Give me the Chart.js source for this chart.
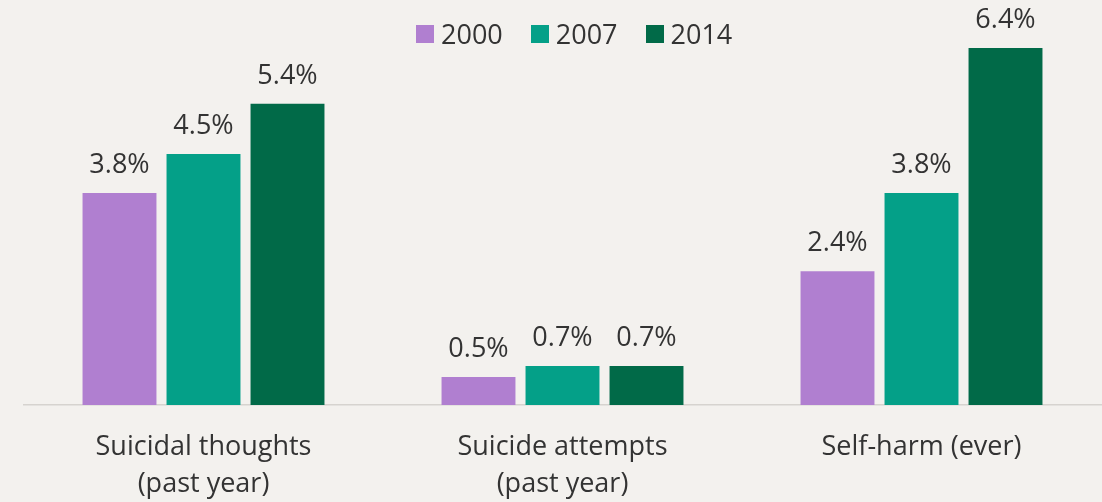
<!DOCTYPE html>
<html>
<head>
<meta charset="utf-8">
<script src="https://cdn.jsdelivr.net/npm/chart.js@4.4.1/dist/chart.umd.min.js"></script>
<style>
  html, body { margin: 0; padding: 0; background: #f3f1ee; }
  #wrap { position: relative; width: 1102px; height: 502px; }
  #legend { position: absolute; left: 416px; top: 15px; display: flex; align-items: center;
            font-family: "Open Sans", sans-serif; font-size: 27px; color: #333; }
  .item { display: flex; align-items: center; margin-right: 28px; }
  .sw { width: 18px; height: 18px; margin-right: 7px; }
</style>
</head>
<body>
<div id="wrap">
  <canvas id="c" width="1102" height="502"></canvas>
  <div id="legend"></div>
</div>
<script>
const categories = [["Suicidal thoughts", "(past year)"], ["Suicide attempts", "(past year)"], ["Self-harm (ever)"]];
const seriesNames = ["2000", "2007", "2014"];
const values2000 = [3.8, 0.5, 2.4];
const values2007 = [4.5, 0.7, 3.8];
const values2014 = [5.4, 0.7, 6.4];
const seriesColors = ["#b07fd0", "#04a088", "#016a48"];

const allValues = [values2000, values2007, values2014];

const legendEl = document.getElementById('legend');
seriesNames.forEach((n, i) => {
  const it = document.createElement('div'); it.className = 'item';
  const sw = document.createElement('div'); sw.className = 'sw'; sw.style.background = seriesColors[i];
  const tx = document.createElement('span'); tx.textContent = n;
  it.appendChild(sw); it.appendChild(tx); legendEl.appendChild(it);
});

const valueLabels = {
  id: 'valueLabels',
  afterDatasetsDraw(chart) {
    const ctx = chart.ctx;
    ctx.save();
    ctx.font = '27px "Open Sans", sans-serif';
    ctx.fillStyle = '#333';
    ctx.textAlign = 'center';
    ctx.textBaseline = 'alphabetic';
    chart.data.datasets.forEach((ds, di) => {
      chart.getDatasetMeta(di).data.forEach((bar, i) => {
        ctx.fillText(ds.data[i].toFixed(1) + '%', bar.x, bar.y - 20);
      });
    });
    ctx.restore();
  }
};

new Chart(document.getElementById('c'), {
  type: 'bar',
  data: {
    labels: categories,
    datasets: seriesNames.map((n, i) => ({
      label: n,
      data: allValues[i],
      backgroundColor: seriesColors[i],
      categoryPercentage: 0.702,
      barPercentage: 0.88
    }))
  },
  options: {
    responsive: false,
    animation: false,
    layout: { padding: { left: 24, right: 1, top: 48, bottom: 0 } },
    plugins: { legend: { display: false }, tooltip: { enabled: false } },
    scales: {
      x: {
        grid: { display: false, drawTicks: false },
        border: { display: true, color: '#d6d3cf', width: 1.5 },
        ticks: { color: '#333', padding: 23, font: { family: '"Open Sans", sans-serif', size: 27, lineHeight: 1.4 } },
        afterFit(scale) { scale.height = 97; }
      },
      y: {
        display: false,
        min: 0, max: 6.4
      }
    }
  },
  plugins: [valueLabels]
});
</script>
</body>
</html>
